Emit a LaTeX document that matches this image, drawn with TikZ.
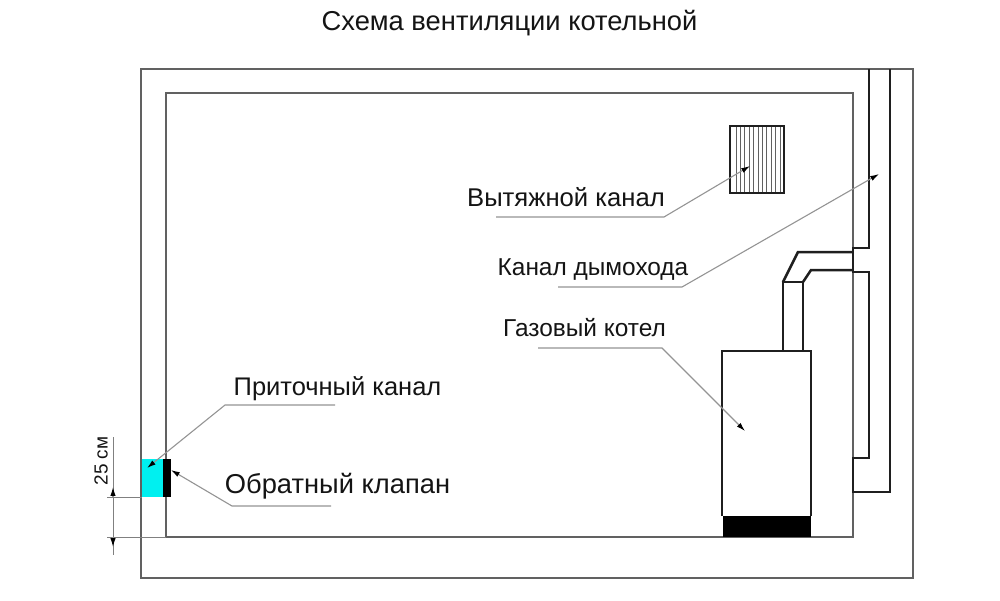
\documentclass[tikz,border=0pt]{standalone}
\usepackage{fontspec}
\setmainfont{Liberation Sans}
\usetikzlibrary{arrows.meta}
\definecolor{inletcyan}{RGB}{0,240,240}
\tikzset{
  wall/.style={draw=black!62,line width=0.03cm},
  thick line/.style={draw=black!88,line width=0.05cm},
  leader/.style={draw=black!42,line width=0.022cm,-{Latex[black,length=5pt,width=3pt]}},
  dimline/.style={draw=black!50,line width=0.02cm},
  caption/.style={inner sep=0pt,anchor=base,text=black!92}
}
\begin{document}
\begin{tikzpicture}[x=0.02cm,y=-0.02cm]
\useasboundingbox (0,0) rectangle (1000,600);

\node[caption,font=\fontsize{15.55}{20}\selectfont] (title) at (509.5,30) {Схема вентиляции котельной};

% walls
\draw[wall] (141,69) rectangle (913,578);
\draw[wall] (166,93) rectangle (853,537);

% inlet and valve
\fill[inletcyan] (141.8,459) rectangle (163,497);
\fill[black] (163,459) rectangle (171,497);

% chimney
\draw[thick line] (869,69) -- (869,248) -- (853,248) -- (853,272) -- (869,272) -- (869,458) -- (853,458) -- (853,492) -- (890,492) -- (890,69);

% boiler and flue
\draw[thick line] (722,516) -- (722,351) -- (811,351) -- (811,516);
\fill[black] (723,516) rectangle (811,537);
\draw[thick line] (783,351) -- (783,282) -- (803,282) -- (803,351);
\draw[thick line] (783,282) -- (798,252) -- (853,252);
\draw[thick line] (803,282) -- (811,270) -- (853,270);

% exhaust grille
\foreach \x in {736,740.4,...,781}
  \draw[black!62,line width=0.018cm] (\x,126) -- (\x,193);
\draw[thick line] (730,126) rectangle (784,193);

% labels
\node[caption,font=\fontsize{14.6}{18}\selectfont] (vent) at (566,206) {Вытяжной канал};
\node[caption,font=\fontsize{13.9}{18}\selectfont] (flue) at (593,275) {Канал дымохода};
\node[caption,font=\fontsize{13.9}{18}\selectfont] (boiler) at (584.5,336) {Газовый котел};
\node[caption,font=\fontsize{14.5}{18}\selectfont] (inlet) at (337.5,395) {Приточный канал};
\node[caption,font=\fontsize{15.55}{20}\selectfont] (valve) at (337.5,493) {Обратный клапан};
\node[caption,font=\fontsize{10.8}{14}\selectfont,rotate=90,anchor=center] (size) at (101,461) {25 см};

% leaders
\coordinate (ventA) at (496,217);
\coordinate (ventB) at (664,217);
\coordinate (ventC) at (750,166);
\draw[leader] (ventA) -- (ventB) -- (ventC);
\coordinate (flueA) at (558,287);
\coordinate (flueB) at (682,287);
\coordinate (flueC) at (879,174);
\draw[leader] (flueA) -- (flueB) -- (flueC);
\coordinate (boilerA) at (538,348);
\coordinate (boilerB) at (662,348);
\coordinate (boilerC) at (745,431);
\draw[leader] (boilerA) -- (boilerB) -- (boilerC);
\coordinate (inletA) at (335,405);
\coordinate (inletB) at (225,405);
\coordinate (inletC) at (147,468);
\draw[leader] (inletA) -- (inletB) -- (inletC);
\coordinate (valveA) at (331,506);
\coordinate (valveB) at (232,506);
\coordinate (valveC) at (171,470);
\draw[leader] (valveA) -- (valveB) -- (valveC);

% dimension
\coordinate (dimA) at (107,497);
\coordinate (dimB) at (142,497);
\coordinate (dimC) at (107,537);
\coordinate (dimD) at (166,537);
\coordinate (dimE) at (113,437);
\coordinate (dimF) at (113,555);
\coordinate (dimG) at (113,497);
\coordinate (dimH) at (113,487);
\coordinate (dimI) at (113,537);
\coordinate (dimJ) at (113,547);
\draw[dimline] (dimA) -- (dimB);
\draw[dimline] (dimC) -- (dimD);
\draw[dimline] (dimE) -- (dimF);
\draw[leader] (dimG) -- (dimH);
\draw[leader] (dimI) -- (dimJ);
\end{tikzpicture}
\end{document}
